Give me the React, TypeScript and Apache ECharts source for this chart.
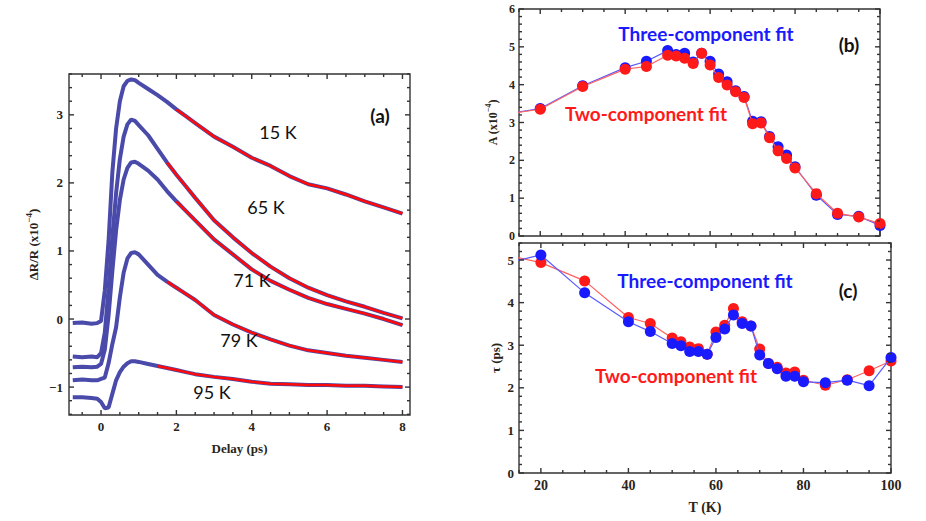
import React, { useEffect, useRef } from "react";
import * as echarts from "echarts";

// ---------- Panel (a): transient reflectivity ----------
const delay = [-0.75, -0.5, -0.25, -0.1, 0, 0.1, 0.2, 0.3, 0.4, 0.5, 0.6, 0.7, 0.8, 0.9, 1, 1.25, 1.5, 1.75, 2, 2.25, 2.5, 3, 3.5, 4, 4.5, 5, 5.5, 6, 6.5, 7, 7.5, 8];
const dr15 = [-0.06, -0.05, -0.07, -0.06, -0.03, 0.42, 1.15, 2.15, 2.8, 3.2, 3.42, 3.5, 3.52, 3.51, 3.47, 3.38, 3.29, 3.19, 3.08, 2.98, 2.88, 2.68, 2.53, 2.37, 2.25, 2.1, 1.98, 1.92, 1.83, 1.73, 1.64, 1.55];
const dr65 = [-0.55, -0.56, -0.55, -0.56, -0.5, -0.2, 0.45, 1.2, 1.85, 2.35, 2.68, 2.86, 2.93, 2.91, 2.85, 2.7, 2.5, 2.3, 2.12, 1.95, 1.78, 1.45, 1.2, 0.97, 0.77, 0.6, 0.46, 0.35, 0.26, 0.18, 0.09, 0.01];
const dr71 = [-0.71, -0.7, -0.71, -0.7, -0.66, -0.45, 0.05, 0.7, 1.3, 1.75, 2.05, 2.22, 2.3, 2.31, 2.28, 2.18, 2.05, 1.88, 1.73, 1.59, 1.45, 1.17, 0.95, 0.73, 0.56, 0.43, 0.31, 0.22, 0.15, 0.08, 0.0, -0.09];
const dr79 = [-0.9, -0.89, -0.9, -0.9, -0.88, -0.86, -0.65, -0.37, -0.12, 0.32, 0.68, 0.89, 0.97, 0.98, 0.95, 0.8, 0.65, 0.55, 0.46, 0.37, 0.28, 0.06, -0.08, -0.2, -0.3, -0.39, -0.46, -0.5, -0.54, -0.57, -0.6, -0.63];
const dr95 = [-1.15, -1.15, -1.16, -1.17, -1.22, -1.31, -1.3, -1.1, -0.9, -0.78, -0.7, -0.65, -0.62, -0.62, -0.63, -0.66, -0.69, -0.72, -0.75, -0.78, -0.81, -0.85, -0.88, -0.92, -0.95, -0.96, -0.97, -0.97, -0.98, -0.98, -0.99, -1.0];
const curves = [dr15, dr65, dr71, dr79, dr95];
const curveLabels = ["15 K", "65 K", "71 K", "79 K", "95 K"];
const fitStart = [2.0, 1.75, 2.0, 1.75, 1.5];

// ---------- Panels (b) and (c): fit parameters vs temperature ----------
const temps = [20, 30, 40, 45, 50, 52, 54, 56, 58, 60, 62, 64, 66, 68, 70, 72, 74, 76, 78, 80, 85, 90, 95, 100];
const ampThree = [3.37, 3.97, 4.45, 4.62, 4.9, 4.8, 4.83, 4.6, 4.83, 4.62, 4.28, 4.08, 3.84, 3.69, 3.03, 3.02, 2.63, 2.36, 2.14, 1.83, 1.08, 0.57, 0.52, 0.28];
const ampTwo = [3.35, 3.95, 4.41, 4.48, 4.78, 4.76, 4.7, 4.56, 4.83, 4.52, 4.19, 3.99, 3.81, 3.66, 2.97, 2.99, 2.6, 2.25, 2.05, 1.8, 1.12, 0.6, 0.5, 0.33];
const tauThree = [5.12, 4.23, 3.55, 3.32, 3.04, 2.99, 2.85, 2.85, 2.79, 3.18, 3.38, 3.71, 3.51, 3.45, 2.77, 2.57, 2.45, 2.27, 2.27, 2.14, 2.12, 2.18, 2.05, 2.71];
const tauTwo = [4.94, 4.51, 3.65, 3.51, 3.17, 3.08, 2.96, 2.92, 2.79, 3.31, 3.47, 3.86, 3.55, 3.45, 2.91, 2.57, 2.48, 2.35, 2.37, 2.18, 2.06, 2.19, 2.4, 2.63];
// line segments entering from below the axis minimum (T = 10 K)
const leadT = 10;
const ampLead = { three: 3.19, two: 3.19 };
const tauLead = { three: 4.88, two: 5.16 };

// tick labels
const aXMajor = [0, 2, 4, 6, 8];
const aYMajor = [-1, 0, 1, 2, 3];
const tMajor = [20, 40, 60, 80, 100];
const bYMajor = [0, 1, 2, 3, 4, 5, 6];
const cYMajor = [0, 1, 2, 3, 4, 5];

function ticksFrom(min: number, max: number, step: number) {
  const out: number[] = [];
  const start = Math.ceil(min / step - 1e-9);
  for (let k = start; k * step <= max + 1e-9; k++) out.push(+(k * step).toFixed(4));
  return out;
}

const SERIF = "'Liberation Serif', 'Times New Roman', serif";
const SANS = "Lato, 'Noto Sans', sans-serif";
const FRAME = "#333";
const LABEL = "#2b2418";
const minusFmt = (v: number) => (v < 0 ? "\u2212" + Math.abs(v) : String(v));

function makeAxis(
  dim: "x" | "y",
  gridIndex: number,
  min: number,
  max: number,
  majors: number[],
  o: { name: string; nameGap: number; nameSize: number; labelSize: number; labelMargin: number; showLabels?: boolean }
) {
  return {
    type: "value",
    gridIndex,
    min,
    max,
    position: dim === "x" ? "bottom" : "left",
    splitLine: { show: false },
    axisLine: { show: false, onZero: false },
    axisTick: { show: false },
    name: o.name,
    nameLocation: "middle",
    nameGap: o.nameGap,
    nameRotate: dim === "y" ? 90 : 0,
    nameTextStyle: {
      fontFamily: SERIF,
      fontWeight: "bold",
      fontSize: o.nameSize,
      color: LABEL,
      rich: {
        sup: { fontFamily: SERIF, fontWeight: "bold", fontSize: o.nameSize - 4, color: LABEL, verticalAlign: "top", lineHeight: o.nameSize + 6 },
      },
    },
    axisLabel: {
      show: o.showLabels !== false,
      customValues: majors,
      margin: o.labelMargin,
      formatter: minusFmt,
      fontFamily: SERIF,
      fontWeight: "bold",
      fontSize: o.labelSize,
      color: LABEL,
    },
  };
}

// Inward frame ticks (Mathematica style) on all four sides, placed through the axes' scales.
function tickSeries(axisIndex: number, dim: "x" | "y", values: number[], len: number, xr: number[], yr: number[]) {
  return {
    type: "custom",
    coordinateSystem: "cartesian2d",
    xAxisIndex: axisIndex,
    yAxisIndex: axisIndex,
    silent: true,
    z: 5,
    data: values.map((v) => (dim === "x" ? [v, yr[0]] : [xr[0], v])),
    renderItem: (_p: any, api: any) => {
      const v = api.value(dim === "x" ? 0 : 1);
      const a = api.coord(dim === "x" ? [v, yr[0]] : [xr[0], v]);
      const b = api.coord(dim === "x" ? [v, yr[1]] : [xr[1], v]);
      const segs =
        dim === "x"
          ? [
              [a[0], a[1], a[0], a[1] - len],
              [b[0], b[1], b[0], b[1] + len],
            ]
          : [
              [a[0], a[1], a[0] + len, a[1]],
              [b[0], b[1], b[0] - len, b[1]],
            ];
      return {
        type: "group",
        children: segs.map(([x1, y1, x2, y2]) => ({
          type: "line",
          shape: { x1, y1, x2, y2 },
          style: { stroke: FRAME, lineWidth: 1.4 },
        })),
      };
    },
  };
}

export default function App() {
  const ref = useRef<HTMLDivElement>(null);

  useEffect(() => {
    if (!ref.current) return;
    const chart = echarts.init(ref.current, undefined, { renderer: "svg" });

    const aX = [-0.85, 8.2];
    const aY = [-1.41, 3.6];
    const tX = [15, 100];
    const bY = [0, 6];
    const cY = [0, 5.4];

    const xAxis = [
      makeAxis("x", 0, aX[0], aX[1], aXMajor, { name: "Delay (ps)", nameGap: 27, nameSize: 13, labelSize: 13, labelMargin: 5 }),
      makeAxis("x", 1, tX[0], tX[1], tMajor, { name: "", nameGap: 20, nameSize: 13, labelSize: 12, labelMargin: 5, showLabels: false }),
      makeAxis("x", 2, tX[0], tX[1], tMajor, { name: "T (K)", nameGap: 27, nameSize: 14, labelSize: 14, labelMargin: 5 }),
    ];
    const yAxis = [
      makeAxis("y", 0, aY[0], aY[1], aYMajor, { name: "\u0394R/R (x10{sup|\u22124})", nameGap: 26, nameSize: 13, labelSize: 13, labelMargin: 6 }),
      makeAxis("y", 1, bY[0], bY[1], bYMajor, { name: "A (x10{sup|\u22124})", nameGap: 17, nameSize: 12, labelSize: 12, labelMargin: 4 }),
      makeAxis("y", 2, cY[0], cY[1], cYMajor, { name: "\u03C4 (ps)", nameGap: 17, nameSize: 13, labelSize: 13, labelMargin: 5 }),
    ];

    const series: any[] = [];
    curves.forEach((vals, k) => {
      const pts = delay.map((t, i) => [t, vals[i]]);
      series.push({
        type: "line",
        xAxisIndex: 0,
        yAxisIndex: 0,
        data: pts,
        showSymbol: false,
        lineStyle: { color: "#4a4aaa", width: 4 },
        z: 2,
      });
      series.push({
        type: "line",
        xAxisIndex: 0,
        yAxisIndex: 0,
        data: pts.filter((p) => p[0] >= fitStart[k] - 1e-9),
        showSymbol: false,
        lineStyle: { color: "#ff0a0a", width: 2.5 },
        z: 3,
      });
    });

    const paramSeries = (xi: number, vals: number[], lead: number, color: string, lineColor: string, z: number) => ({
      type: "line",
      xAxisIndex: xi,
      yAxisIndex: xi,
      data: [{ value: [leadT, lead], symbol: "none" }, ...temps.map((t, i) => [t, vals[i]])],
      symbol: "circle",
      symbolSize: 11,
      itemStyle: { color },
      lineStyle: { color: lineColor, width: 1.2 },
      z,
    });
    // panel (b): red drawn above blue
    series.push(paramSeries(1, ampThree, ampLead.three, "#1a1aff", "#5a5aff", 2));
    series.push(paramSeries(1, ampTwo, ampLead.two, "#ff1a1a", "#ff6060", 3));
    // panel (c): blue drawn above red
    series.push(paramSeries(2, tauTwo, tauLead.two, "#ff1a1a", "#ff6060", 2));
    series.push(paramSeries(2, tauThree, tauLead.three, "#1a1aff", "#5a5aff", 3));

    // frame ticks
    series.push(tickSeries(0, "x", aXMajor, 5, aX, aY));
    series.push(tickSeries(0, "x", ticksFrom(aX[0], aX[1], 0.5).filter((v) => !aXMajor.includes(v)), 3, aX, aY));
    series.push(tickSeries(0, "y", aYMajor, 5, aX, aY));
    series.push(tickSeries(0, "y", ticksFrom(aY[0], aY[1], 0.2).filter((v) => !aYMajor.includes(v)), 3, aX, aY));
    series.push(tickSeries(1, "x", tMajor, 5, tX, bY));
    series.push(tickSeries(1, "x", ticksFrom(tX[0], tX[1], 5).filter((v) => !tMajor.includes(v)), 3, tX, bY));
    series.push(tickSeries(1, "y", bYMajor, 5, tX, bY));
    series.push(tickSeries(1, "y", ticksFrom(bY[0], bY[1], 0.2).filter((v) => !bYMajor.includes(v)), 3, tX, bY));
    series.push(tickSeries(2, "x", tMajor, 5, tX, cY));
    series.push(tickSeries(2, "x", ticksFrom(tX[0], tX[1], 5).filter((v) => !tMajor.includes(v)), 3, tX, cY));
    series.push(tickSeries(2, "y", cYMajor, 5, tX, cY));
    series.push(tickSeries(2, "y", ticksFrom(cY[0], cY[1], 0.2).filter((v) => !cYMajor.includes(v)), 3, tX, cY));

    const txt = (text: string, x: number, y: number, fill: string, weight: string, size: number) => ({
      type: "text",
      x,
      y,
      z: 10,
      style: { text, fill, font: `${weight} ${size}px ${SANS}`, align: "center", verticalAlign: "middle" },
    });
    const labelPos = [
      [278, 132],
      [266, 207],
      [252, 280],
      [239, 340],
      [212, 392],
    ];
    const graphic = [
      ...curveLabels.map((l, i) => txt(l, labelPos[i][0], labelPos[i][1], "#111", "normal", 18)),
      txt("(a)", 380, 115, "#111", "bold", 19),
      txt("Three-component fit", 706, 33, "#1a1aff", "bold", 19),
      txt("Two-component fit", 646, 113, "#ff1a1a", "bold", 19),
      txt("(b)", 849, 44, "#111", "bold", 19),
      txt("Three-component fit", 705, 280, "#1a1aff", "bold", 19),
      txt("Two-component fit", 676, 375, "#ff1a1a", "bold", 19),
      txt("(c)", 848, 290, "#111", "bold", 19),
    ];

    chart.setOption({
      animation: false,
      backgroundColor: "#ffffff",
      grid: [
        { left: 69, top: 74, width: 341, height: 341, show: true, borderColor: FRAME, borderWidth: 1.4, backgroundColor: "transparent" },
        { left: 519, top: 9, width: 361, height: 227, show: true, borderColor: FRAME, borderWidth: 1.4, backgroundColor: "transparent" },
        { left: 519, top: 243, width: 372, height: 230, show: true, borderColor: FRAME, borderWidth: 1.4, backgroundColor: "transparent" },
      ],
      xAxis,
      yAxis,
      series,
      graphic,
    });

    return () => chart.dispose();
  }, []);

  return <div ref={ref} style={{ position: "absolute", left: 0, top: 0, width: 926, height: 521 }} />;
}
